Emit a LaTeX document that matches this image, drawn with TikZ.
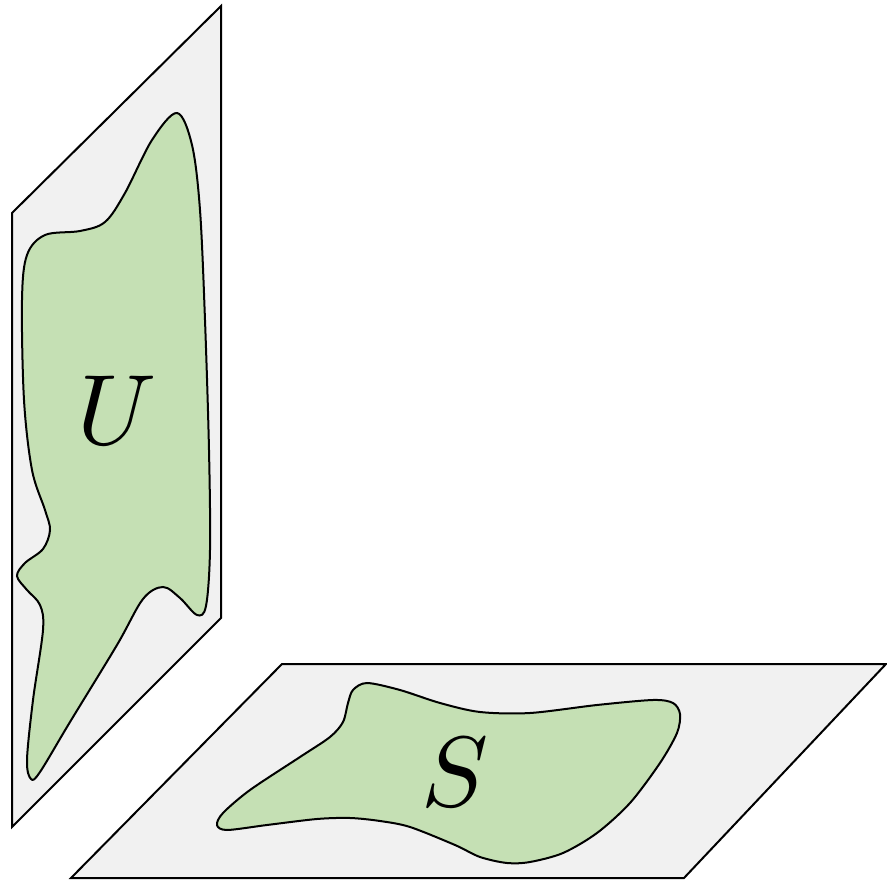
\documentclass[tikz,border=0pt]{standalone}
\usepackage{graphicx}
\definecolor{planefill}{HTML}{F1F1F1}
\definecolor{blobfill}{HTML}{C5E0B4}
\tikzset{
  plane/.style={draw=black, fill=planefill, line width=2pt, line join=miter},
  blob/.style={draw=black, fill=blobfill, line width=2pt},
  lbl/.style={inner sep=0pt}
}
\begin{document}
\begin{tikzpicture}[x=1pt,y=-1pt]
\useasboundingbox (0,0) rectangle (887,882);
% left vertical plane
\draw[plane] (12,213) -- (221,6) -- (221,618) -- (12,827) -- cycle;
% bottom plane
\draw[plane] (282,664) -- (886,664) -- (684,878) -- (71,878) -- cycle;
% U blob
\draw[blob] plot[smooth cycle, tension=0.55] coordinates {
 (177,113) (192,145) (200,210) (205,320) (209,450) (210,550) (206,606) (197,615)
 (180,598) (163,587) (143,599) (117,645) (70,722) (40,772) (31,779) (27,760)
 (33,700) (43,630) (40,605) (27,590) (17,576) (25,563) (43,549) (50,530)
 (45,510) (32,470) (24,400) (22,300) (27,255) (45,235) (80,231) (105,222)
 (125,193) (152,140)};
% S blob
\draw[blob] plot[smooth cycle, tension=0.5] coordinates {
 (367,683) (400,690) (440,703) (480,712) (530,713) (597,705) (653,700)
 (673,703) (680,714) (677,733) (660,763) (630,803) (597,833) (563,853)
 (530,862) (507,863) (480,857) (455,845) (410,827) (380,821) (350,818)
 (317,819) (267,825) (227,830) (217,825) (223,813) (250,790) (300,757)
 (330,737) (343,722) (348,703) (353,690)};
\node[lbl] (U) at (117,410) {\scalebox{10}{$U$}};
\node[lbl] (S) at (455,772) {\scalebox{10}{$S$}};
\end{tikzpicture}
\end{document}
